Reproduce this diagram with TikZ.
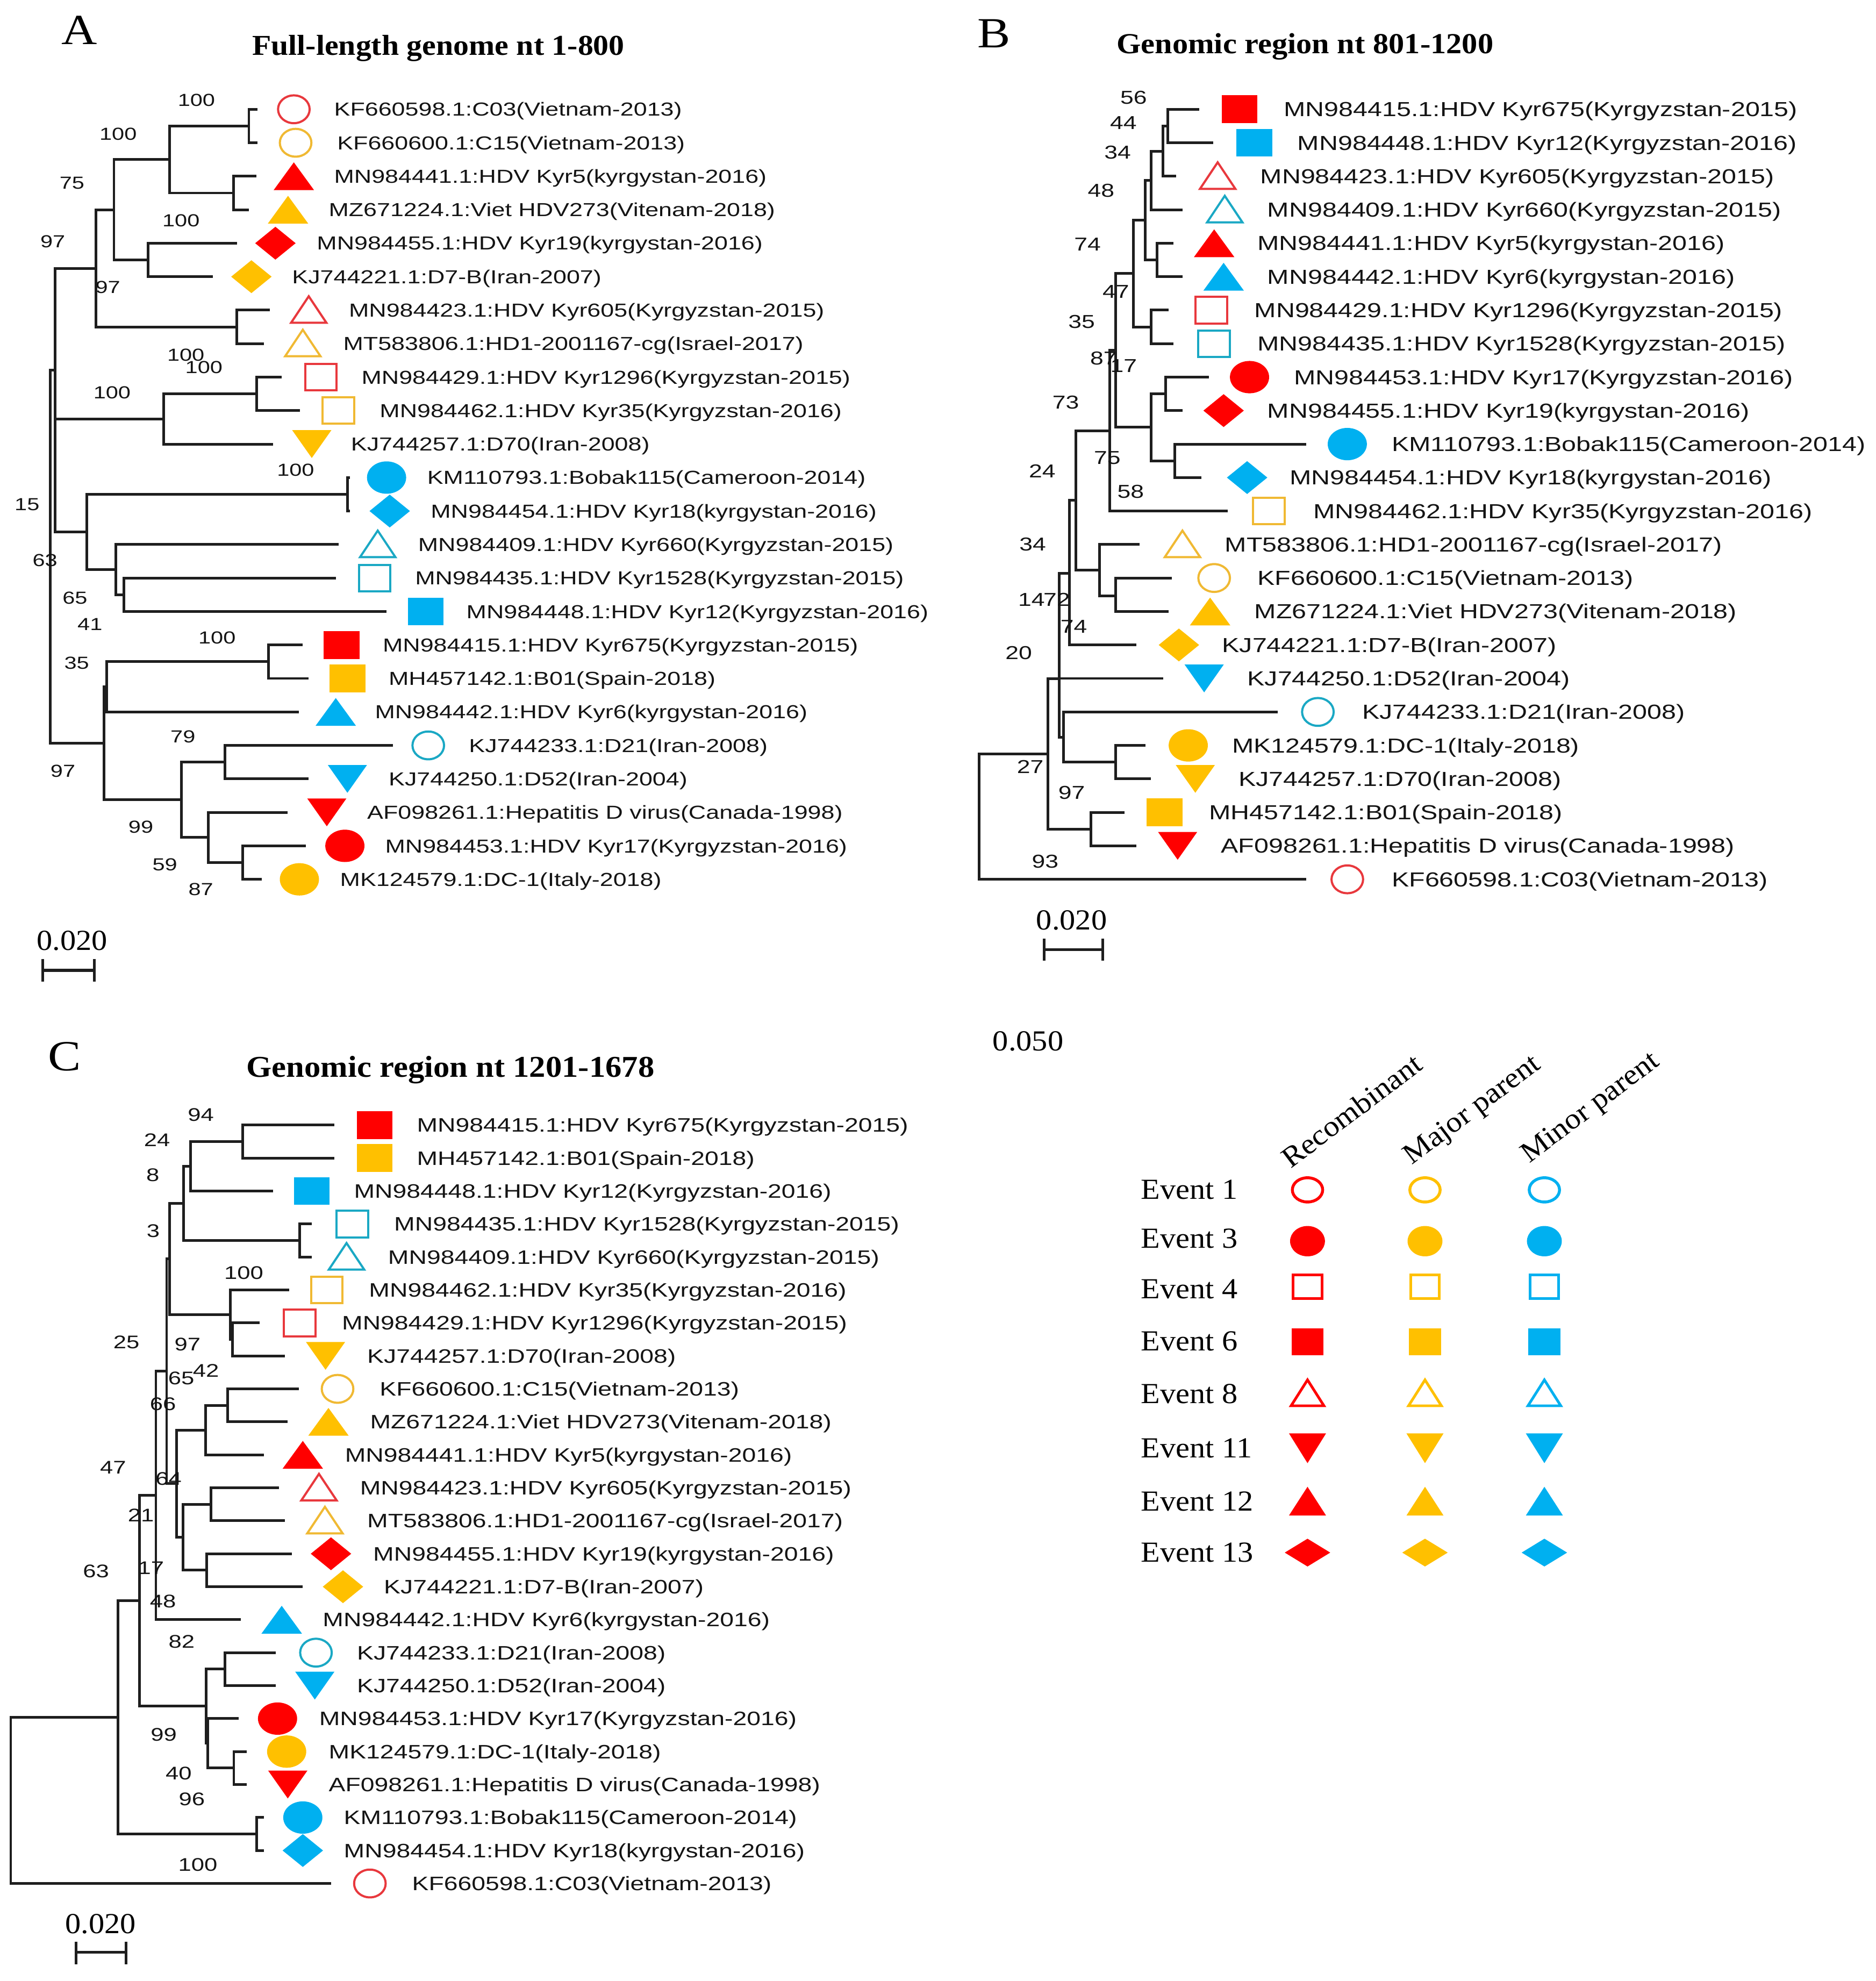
\documentclass[tikz,border=0pt]{standalone}
\usepackage{fontspec}
\setmainfont{Liberation Serif}
\newfontfamily\labf{Liberation Sans}[FakeStretch=1.28]
\newfontfamily\ttlf{Liberation Serif}[FakeStretch=1.08]
\newfontfamily\letf{Liberation Serif}[FakeStretch=1.15]
\definecolor{rd}{HTML}{FF0000}
\definecolor{yl}{HTML}{FFC000}
\definecolor{bl}{HTML}{00B0F0}
\definecolor{ord}{HTML}{E8383D}
\definecolor{oyl}{HTML}{F0B933}
\definecolor{obl}{HTML}{1AA8C4}
\definecolor{ink}{HTML}{1E1E1E}
\definecolor{txt}{HTML}{141414}
\tikzset{
  br/.style={draw=ink, line width=2.1pt},
  sbar/.style={draw=ink, line width=2.2pt},
  labA/.style={font=\labf\fontsize{14.9}{16}\selectfont, anchor=west, inner sep=0pt, text height=10.7pt, text depth=0pt, text=txt},
  labB/.style={font=\labf\fontsize{16.1}{17}\selectfont, anchor=west, inner sep=0pt, text height=11.5pt, text depth=0pt, text=txt},
  labC/.style={font=\labf\fontsize{15.4}{16}\selectfont, anchor=west, inner sep=0pt, text height=11pt, text depth=0pt, text=txt},
  bsA/.style={font=\labf\fontsize{13.8}{15}\selectfont, inner sep=0pt, text=txt},
  bsB/.style={font=\labf\fontsize{14.8}{16}\selectfont, inner sep=0pt, text=txt},
  bsC/.style={font=\labf\fontsize{14.5}{16}\selectfont, inner sep=0pt, text=txt},
  ttl/.style={font=\ttlf\bfseries\fontsize{#1}{#1}\selectfont, anchor=base, inner sep=0pt, text=black},
  plet/.style={font=\letf\fontsize{34}{36}\selectfont, anchor=base, inner sep=0pt, text=black},
  scl/.style={font=\ttlf\fontsize{23}{25}\selectfont, inner sep=0pt, text=black},
  evl/.style={font=\ttlf\fontsize{23}{25}\selectfont, anchor=west, inner sep=0pt, text height=15.2pt, text depth=0pt, text=black},
  hdr/.style={font=\ttlf\fontsize{23}{25}\selectfont, anchor=base west, rotate=37, inner sep=0pt, text=black},
  ocirc/.pic={\draw[line width=1.7pt] (0,0) ellipse [x radius=12.5pt, y radius=11pt];},
  fcirc/.pic={\fill (0,0) ellipse [x radius=15.5pt, y radius=12.8pt];},
  osq/.pic={\draw[line width=1.7pt] (-12.5,-10.5) rectangle (12.5,10.5);},
  fsq/.pic={\fill (-14.2,-11) rectangle (14.2,11);},
  ftri/.pic={\fill (-16,11) -- (16,11) -- (0,-11) -- cycle;},
  itri/.pic={\fill (-15.5,-11) -- (15.5,-11) -- (0,11) -- cycle;},
  otri/.pic={\draw[line width=1.7pt] (-14,10) -- (14,10) -- (0,-11) -- cycle;},
  fdia/.pic={\fill (-16,0) -- (0,-13) -- (16,0) -- (0,13) -- cycle;},
  locirc/.pic={\draw[line width=2.3pt] (0,0) ellipse [x radius=12pt, y radius=9.6pt];},
  lfcirc/.pic={\fill (0,0) ellipse [x radius=13.8pt, y radius=12pt];},
  losq/.pic={\draw[line width=2.1pt] (-11.4,-9.5) rectangle (11.4,9.5);},
  lfsq/.pic={\fill (-12.7,-10.7) rectangle (12.7,10.7);},
  lotri/.pic={\draw[line width=2.1pt] (-13,10) -- (13,10) -- (0,-10.5) -- cycle;},
  litri/.pic={\fill (-14.7,-11.8) -- (14.7,-11.8) -- (0,11.8) -- cycle;},
  lftri/.pic={\fill (-14.7,11.4) -- (14.7,11.4) -- (0,-11.4) -- cycle;},
  lfdia/.pic={\fill (-18,0) -- (0,-11) -- (18,0) -- (0,11) -- cycle;}
}
\newcommand\leaf[8]{\coordinate (#1) at (#3,#2); \pic[#6] at (#4,#2) {#5}; \node[lab] (#1t) at (#7,#2) {#8};}
\newcommand\tree[2]{\foreach \ch in {#2}{\draw[br] (#1) |- (\ch);}}
\begin{document}
\begin{tikzpicture}[x=1pt,y=-1pt]
\useasboundingbox (0,0) rectangle (1485,1568);
\fill[white] (0,0) rectangle (1485,1568);

% ================= PANEL A =================
\node[plet] (pA) at (63,35) {A};
\node[ttl=22.8] (tA) at (347,43.7) {Full-length genome nt 1-800};
\begin{scope}[lab/.style={labA}]
\leaf{A1}{86.5}{204}{232.6}{ocirc}{ord}{264.3}{KF660598.1:C03(Vietnam-2013)}
\leaf{A2}{113}{204}{234}{ocirc}{oyl}{266.7}{KF660600.1:C15(Vietnam-2013)}
\leaf{A3}{139.5}{203}{232.6}{ftri}{rd}{264.3}{MN984441.1:HDV Kyr5(kyrgystan-2016)}
\leaf{A4}{166}{197}{228}{ftri}{yl}{260}{MZ671224.1:Viet HDV273(Vitenam-2018)}
\leaf{A5}{192.5}{187.5}{218}{fdia}{rd}{250.6}{MN984455.1:HDV Kyr19(kyrgystan-2016)}
\leaf{A6}{219}{168.5}{199}{fdia}{yl}{231}{KJ744221.1:D7-B(Iran-2007)}
\leaf{A7}{245.5}{213.6}{244.4}{otri}{ord}{276}{MN984423.1:HDV Kyr605(Kyrgyzstan-2015)}
\leaf{A8}{272}{208.8}{239.7}{otri}{oyl}{271.5}{MT583806.1:HD1-2001167-cg(Israel-2017)}
\leaf{A9}{298.5}{223}{254}{osq}{ord}{286}{MN984429.1:HDV Kyr1296(Kyrgyzstan-2015)}
\leaf{A10}{325}{237.3}{268}{osq}{oyl}{300.4}{MN984462.1:HDV Kyr35(Kyrgyzstan-2016)}
\leaf{A11}{351.5}{216}{246.8}{itri}{yl}{277.6}{KJ744257.1:D70(Iran-2008)}
\leaf{A12}{378}{277}{306}{fcirc}{bl}{338}{KM110793.1:Bobak115(Cameroon-2014)}
\leaf{A13}{404.5}{277}{308.5}{fdia}{bl}{340.8}{MN984454.1:HDV Kyr18(kyrgystan-2016)}
\leaf{A14}{431}{268}{299}{otri}{obl}{330.8}{MN984409.1:HDV Kyr660(Kyrgyzstan-2015)}
\leaf{A15}{457.5}{266}{296.6}{osq}{obl}{328.4}{MN984435.1:HDV Kyr1528(Kyrgyzstan-2015)}
\leaf{A16}{484}{306}{337}{fsq}{bl}{369}{MN984448.1:HDV Kyr12(Kyrgyzstan-2016)}
\leaf{A17}{510.5}{239.7}{270.5}{fsq}{rd}{302.8}{MN984415.1:HDV Kyr675(Kyrgyzstan-2015)}
\leaf{A18}{537}{244.4}{275}{fsq}{yl}{307.5}{MH457142.1:B01(Spain-2018)}
\leaf{A19}{563.5}{236.4}{265.8}{ftri}{bl}{296.6}{MN984442.1:HDV Kyr6(kyrgystan-2016)}
\leaf{A20}{590}{310.9}{339}{ocirc}{obl}{371}{KJ744233.1:D21(Iran-2008)}
\leaf{A21}{616.5}{244.4}{275}{itri}{bl}{307.5}{KJ744250.1:D52(Iran-2004)}
\leaf{A22}{643}{227.8}{258.7}{itri}{rd}{290.5}{AF098261.1:Hepatitis D virus(Canada-1998)}
\leaf{A23}{669.5}{242}{273}{fcirc}{rd}{304.7}{MN984453.1:HDV Kyr17(Kyrgyzstan-2016)}
\leaf{A24}{696}{207.4}{237}{fcirc}{yl}{269}{MK124579.1:DC-1(Italy-2018)}
\end{scope}
\coordinate (a12) at (197,99.75);
\coordinate (a34) at (185,152.75);
\coordinate (a1234) at (134.3,126.25);
\coordinate (a56) at (117.2,205.75);
\coordinate (a16) at (90.2,166);
\coordinate (a78) at (187.5,258.75);
\coordinate (a18) at (76,212.4);
\coordinate (a910) at (203,311.75);
\coordinate (a911) at (129.6,331.6);
\coordinate (a1213) at (275,391.25);
\coordinate (a1516) at (98.2,470.75);
\coordinate (a1416) at (91.6,450.9);
\coordinate (a1216) at (68.8,421);
\coordinate (a1718) at (212.6,523.75);
\coordinate (a1719) at (84.5,543.6);
\coordinate (a2021) at (178,603.25);
\coordinate (a2324) at (192.2,682.75);
\coordinate (a2224) at (164.7,662.9);
\coordinate (a2024) at (143.8,633);
\coordinate (a1724) at (82.2,588.3);
\coordinate (ar1) at (43.5,293);
\coordinate (ar0) at (39.7,440.6);
\tree{a12}{A1,A2}
\tree{a34}{A3,A4}
\tree{a1234}{a12,a34}
\tree{a56}{A5,A6}
\tree{a16}{a1234,a56}
\tree{a78}{A7,A8}
\tree{a18}{a16,a78}
\tree{a910}{A9,A10}
\tree{a911}{a910,A11}
\tree{a1213}{A12,A13}
\tree{a1516}{A15,A16}
\tree{a1416}{A14,a1516}
\tree{a1216}{a1213,a1416}
\tree{a1718}{A17,A18}
\tree{a1719}{a1718,A19}
\tree{a2021}{A20,A21}
\tree{a2324}{A23,A24}
\tree{a2224}{A22,a2324}
\tree{a2024}{a2021,a2224}
\tree{a1724}{a1719,a2024}
\tree{ar1}{a18,a911,a1216}
\tree{ar0}{ar1,a1724}
\node[bsA] (nA1) at (155.5,79.4) {100};
\node[bsA] (nA2) at (93.5,106) {100};
\node[bsA] (nA3) at (57,144.8) {75};
\node[bsA] (nA4) at (143.3,174.8) {100};
\node[bsA] (nA5) at (41.8,191) {97};
\node[bsA] (nA6) at (85.4,227.2) {97};
\node[bsA] (nA7) at (147.1,281) {100};
\node[bsA] (nA8) at (161.4,290.9) {100};
\node[bsA] (nA9) at (88.7,310.9) {100};
\node[bsA] (nA10) at (234,372) {100};
\node[bsA] (nA11) at (21.4,399.2) {15};
\node[bsA] (nA12) at (35.6,443.5) {63};
\node[bsA] (nA13) at (59.3,473.5) {65};
\node[bsA] (nA14) at (71.2,494.3) {41};
\node[bsA] (nA15) at (171.8,504.8) {100};
\node[bsA] (nA16) at (60.7,525) {35};
\node[bsA] (nA17) at (144.8,582.9) {79};
\node[bsA] (nA18) at (49.8,610.3) {97};
\node[bsA] (nA19) at (111.5,654.5) {99};
\node[bsA] (nA20) at (130.5,684.5) {59};
\node[bsA] (nA21) at (159,704) {87};
\node[scl] (sA) at (57,744.4) {0.020};
\draw[sbar] (34,759) -- (34,777) (34,768) -- (74.5,768) (74.5,759) -- (74.5,777);

% ================= PANEL B =================
\node[plet] (pB) at (787,37.5) {B};
\node[ttl=23] (tB) at (1033,42.4) {Genomic region nt 801-1200};
\begin{scope}[lab/.style={labB}]
\leaf{B1}{86.5}{949.5}{981.2}{fsq}{rd}{1016.1}{MN984415.1:HDV Kyr675(Kyrgyzstan-2015)}
\leaf{B2}{113}{960.2}{992.8}{fsq}{bl}{1026.9}{MN984448.1:HDV Kyr12(Kyrgyzstan-2016)}
\leaf{B3}{139.5}{930.8}{963.9}{otri}{ord}{997.5}{MN984423.1:HDV Kyr605(Kyrgyzstan-2015)}
\leaf{B4}{166}{936}{969.5}{otri}{obl}{1003.1}{MN984409.1:HDV Kyr660(Kyrgyzstan-2015)}
\leaf{B5}{192.5}{929}{961.1}{ftri}{rd}{995.2}{MN984441.1:HDV Kyr5(kyrgystan-2016)}
\leaf{B6}{219}{936}{968.6}{ftri}{bl}{1003.1}{MN984442.1:HDV Kyr6(kyrgystan-2016)}
\leaf{B7}{245.5}{925.2}{958.8}{osq}{ord}{992.8}{MN984429.1:HDV Kyr1296(Kyrgyzstan-2015)}
\leaf{B8}{272}{929}{961.1}{osq}{obl}{995.2}{MN984435.1:HDV Kyr1528(Kyrgyzstan-2015)}
\leaf{B9}{298.5}{957}{989.1}{fcirc}{rd}{1024.1}{MN984453.1:HDV Kyr17(Kyrgyzstan-2016)}
\leaf{B10}{325}{936}{968.6}{fdia}{rd}{1003.1}{MN984455.1:HDV Kyr19(kyrgystan-2016)}
\leaf{B11}{351.5}{1033.9}{1066.5}{fcirc}{bl}{1101.5}{KM110793.1:Bobak115(Cameroon-2014)}
\leaf{B12}{378}{950.9}{987.2}{fdia}{bl}{1020.8}{MN984454.1:HDV Kyr18(kyrgystan-2016)}
\leaf{B13}{404.5}{971.9}{1004.5}{osq}{oyl}{1039.4}{MN984462.1:HDV Kyr35(Kyrgyzstan-2016)}
\leaf{B14}{431}{901.9}{936}{otri}{oyl}{969.5}{MT583806.1:HD1-2001167-cg(Israel-2017)}
\leaf{B15}{457.5}{927.6}{961.1}{ocirc}{oyl}{995.2}{KF660600.1:C15(Vietnam-2013)}
\leaf{B16}{484}{925.2}{957.9}{ftri}{yl}{992.8}{MZ671224.1:Viet HDV273(Vitenam-2018)}
\leaf{B17}{510.5}{899.6}{933.2}{fdia}{yl}{967.2}{KJ744221.1:D7-B(Iran-2007)}
\leaf{B18}{537}{920.6}{953.2}{itri}{bl}{987.2}{KJ744250.1:D52(Iran-2004)}
\leaf{B19}{563.5}{1011.5}{1043.2}{ocirc}{obl}{1078.1}{KJ744233.1:D21(Iran-2008)}
\leaf{B20}{590}{906.6}{940.6}{fcirc}{yl}{975.1}{MK124579.1:DC-1(Italy-2018)}
\leaf{B21}{616.5}{911.2}{946.2}{itri}{yl}{980.2}{KJ744257.1:D70(Iran-2008)}
\leaf{B22}{643}{890.3}{922}{fsq}{yl}{956.9}{MH457142.1:B01(Spain-2018)}
\leaf{B23}{669.5}{899.6}{932.2}{itri}{rd}{966.3}{AF098261.1:Hepatitis D virus(Canada-1998)}
\leaf{B24}{696}{1033.9}{1066.5}{ocirc}{ord}{1101.5}{KF660598.1:C03(Vietnam-2013)}
\end{scope}
\coordinate (b12) at (924.3,99.75);
\coordinate (b13) at (920.6,119.6);
\coordinate (b14) at (911.2,142.8);
\coordinate (b56) at (915.9,205.75);
\coordinate (b16) at (906.6,174.3);
\coordinate (b78) at (911.2,258.75);
\coordinate (b18) at (897.3,216.5);
\coordinate (b910) at (922.9,311.75);
\coordinate (b1112) at (929.9,364.75);
\coordinate (b912) at (911.2,338.25);
\coordinate (b112) at (883.3,277.4);
\coordinate (b113) at (878.5,340.9);
\coordinate (b1516) at (883.3,471.5);
\coordinate (b1416) at (870.5,451.25);
\coordinate (bR) at (851.8,396);
\coordinate (bU) at (846.5,453.75);
\coordinate (b2021) at (883.3,603.25);
\coordinate (bX) at (841.8,583.4);
\coordinate (bY) at (838.5,537.2);
\coordinate (b2223) at (863.7,656.25);
\coordinate (bS) at (829.5,596.7);
\coordinate (broot) at (775.1,646.4);
\tree{b12}{B1,B2}
\tree{b13}{b12,B3}
\tree{b14}{b13,B4}
\tree{b56}{B5,B6}
\tree{b16}{b14,b56}
\tree{b78}{B7,B8}
\tree{b18}{b16,b78}
\tree{b910}{B9,B10}
\tree{b1112}{B11,B12}
\tree{b912}{b910,b1112}
\tree{b112}{b18,b912}
\tree{b113}{b112,B13}
\tree{b1516}{B15,B16}
\tree{b1416}{B14,b1516}
\tree{bR}{b113,b1416}
\tree{bU}{bR,B17}
\tree{b2021}{B20,B21}
\tree{bX}{B19,b2021}
\tree{bY}{bU,B18,bX}
\tree{b2223}{B22,B23}
\tree{bS}{bY,b2223}
\tree{broot}{bS,B24}
\node[bsB] (nB1) at (897.3,77.4) {56};
\node[bsB] (nB2) at (889.3,97.4) {44};
\node[bsB] (nB3) at (884.7,120.6) {34};
\node[bsB] (nB4) at (871.6,151) {48};
\node[bsB] (nB5) at (860.9,193.5) {74};
\node[bsB] (nB6) at (883.3,231) {47};
\node[bsB] (nB7) at (856.2,254.7) {35};
\node[bsB] (nB8) at (873.5,283.4) {87};
\node[bsB] (nB9) at (889.5,289.6) {17};
\node[bsB] (nB10) at (843.6,318.4) {73};
\node[bsB] (nB11) at (876.5,362.5) {75};
\node[bsB] (nB12) at (825,372.8) {24};
\node[bsB] (nB13) at (895,389.3) {58};
\node[bsB] (nB14) at (817.5,431) {34};
\node[bsB] (nB15) at (816.5,474.5) {14};
\node[bsB] (nB16) at (836.5,474.5) {72};
\node[bsB] (nB17) at (850,496) {74};
\node[bsB] (nB18) at (806.4,516.8) {20};
\node[bsB] (nB19) at (815.5,607) {27};
\node[bsB] (nB20) at (848.3,627.5) {97};
\node[bsB] (nB21) at (827.3,681.7) {93};
\node[scl] (sB) at (848.3,728.3) {0.020};
\draw[sbar] (826.4,742.9) -- (826.4,760.2) (826.4,751.7) -- (873,751.7) (873,742.9) -- (873,760.2);
\node[scl] (s050) at (813.8,824) {0.050};

% ================= PANEL C =================
\node[plet] (pC) at (51,847.5) {C};
\node[ttl=23.9] (tC) at (356.6,852.7) {Genomic region nt 1201-1678};
\begin{scope}[lab/.style={labC}]
\leaf{C1}{890.5}{264.8}{296.6}{fsq}{rd}{329.8}{MN984415.1:HDV Kyr675(Kyrgyzstan-2015)}
\leaf{C2}{916.6}{264.8}{296.6}{fsq}{yl}{329.8}{MH457142.1:B01(Spain-2018)}
\leaf{C3}{942.7}{216}{246.8}{fsq}{bl}{280}{MN984448.1:HDV Kyr12(Kyrgyzstan-2016)}
\leaf{C4}{968.8}{246.8}{279}{osq}{obl}{311.8}{MN984435.1:HDV Kyr1528(Kyrgyzstan-2015)}
\leaf{C5}{994.9}{246.8}{274.3}{otri}{obl}{307}{MN984409.1:HDV Kyr660(Kyrgyzstan-2015)}
\leaf{C6}{1021}{228.8}{258.7}{osq}{oyl}{291.9}{MN984462.1:HDV Kyr35(Kyrgyzstan-2016)}
\leaf{C7}{1047.1}{205.5}{237.3}{osq}{ord}{270.5}{MN984429.1:HDV Kyr1296(Kyrgyzstan-2015)}
\leaf{C8}{1073.2}{225.4}{257.7}{itri}{yl}{290.5}{KJ744257.1:D70(Iran-2008)}
\leaf{C9}{1099.3}{236.4}{267.2}{ocirc}{oyl}{300.4}{KF660600.1:C15(Vietnam-2013)}
\leaf{C10}{1125.4}{227.8}{260}{ftri}{yl}{292.8}{MZ671224.1:Viet HDV273(Vitenam-2018)}
\leaf{C11}{1151.5}{208.8}{239.7}{ftri}{rd}{272.9}{MN984441.1:HDV Kyr5(kyrgystan-2016)}
\leaf{C12}{1177.6}{220.7}{252.5}{otri}{ord}{284.8}{MN984423.1:HDV Kyr605(Kyrgyzstan-2015)}
\leaf{C13}{1203.7}{225.4}{257.2}{otri}{oyl}{290.5}{MT583806.1:HD1-2001167-cg(Israel-2017)}
\leaf{C14}{1229.8}{231.1}{262}{fdia}{rd}{295.2}{MN984455.1:HDV Kyr19(kyrgystan-2016)}
\leaf{C15}{1255.9}{239.7}{271.5}{fdia}{yl}{303.7}{KJ744221.1:D7-B(Iran-2007)}
\leaf{C16}{1282}{190.8}{223}{ftri}{bl}{255.3}{MN984442.1:HDV Kyr6(kyrgystan-2016)}
\leaf{C17}{1308.1}{218.3}{250.1}{ocirc}{obl}{282.4}{KJ744233.1:D21(Iran-2008)}
\leaf{C18}{1334.2}{218.3}{249.2}{itri}{bl}{282.4}{KJ744250.1:D52(Iran-2004)}
\leaf{C19}{1360.3}{188.9}{219.7}{fcirc}{rd}{252.5}{MN984453.1:HDV Kyr17(Kyrgyzstan-2016)}
\leaf{C20}{1386.4}{195.5}{226.9}{fcirc}{yl}{260.1}{MK124579.1:DC-1(Italy-2018)}
\leaf{C21}{1412.5}{195.5}{227.8}{itri}{rd}{260.1}{AF098261.1:Hepatitis D virus(Canada-1998)}
\leaf{C22}{1438.6}{208.8}{239.7}{fcirc}{bl}{272}{KM110793.1:Bobak115(Cameroon-2014)}
\leaf{C23}{1464.7}{208.8}{239.7}{fdia}{bl}{272}{MN984454.1:HDV Kyr18(kyrgystan-2016)}
\leaf{C24}{1490.8}{262}{292.8}{ocirc}{ord}{326}{KF660598.1:C03(Vietnam-2013)}
\end{scope}
\coordinate (c12) at (192.2,903.55);
\coordinate (c13) at (150.9,923.1);
\coordinate (c45) at (237.3,981.85);
\coordinate (c15) at (145.5,952.5);
\coordinate (c78) at (184,1060.15);
\coordinate (c68) at (182.5,1040.6);
\coordinate (c18) at (134.1,996.5);
\coordinate (c910) at (180.3,1112.35);
\coordinate (c911) at (162.6,1131.9);
\coordinate (c1213) at (167.1,1190.65);
\coordinate (c1415) at (163.7,1242.85);
\coordinate (c1215) at (144.7,1216.75);
\coordinate (cX) at (139.7,1174.3);
\coordinate (cK) at (131.9,1085.4);
\coordinate (cL) at (123.4,1183.7);
\coordinate (c1718) at (178,1321.15);
\coordinate (c2021) at (185.1,1399.45);
\coordinate (c1921) at (164.5,1379.9);
\coordinate (c1721) at (163,1350.5);
\coordinate (cQ) at (110.6,1267.1);
\coordinate (c2223) at (203.1,1451.65);
\coordinate (cR2) at (93.5,1359.4);
\coordinate (cRoot) at (8.5,1425.1);
\tree{c12}{C1,C2}
\tree{c13}{c12,C3}
\tree{c45}{C4,C5}
\tree{c15}{c13,c45}
\tree{c78}{C7,C8}
\tree{c68}{C6,c78}
\tree{c18}{c15,c68}
\tree{c910}{C9,C10}
\tree{c911}{c910,C11}
\tree{c1213}{C12,C13}
\tree{c1415}{C14,C15}
\tree{c1215}{c1213,c1415}
\tree{cX}{c911,c1215}
\tree{cK}{c18,cX}
\tree{cL}{cK,C16}
\tree{c1718}{C17,C18}
\tree{c2021}{C20,C21}
\tree{c1921}{C19,c2021}
\tree{c1721}{c1718,c1921}
\tree{cQ}{cL,c1721}
\tree{c2223}{C22,C23}
\tree{cR2}{cQ,c2223}
\tree{cRoot}{cR2,C24}
\node[bsC] (nC1) at (159,882.5) {94};
\node[bsC] (nC2) at (124.3,902.3) {24};
\node[bsC] (nC3) at (121,930) {8};
\node[bsC] (nC4) at (121.3,974.4) {3};
\node[bsC] (nC5) at (193,1007.5) {100};
\node[bsC] (nC6) at (100,1062.5) {25};
\node[bsC] (nC7) at (148.5,1064) {97};
\node[bsC] (nC8) at (143.5,1091) {65};
\node[bsC] (nC9) at (163,1085) {42};
\node[bsC] (nC10) at (129,1111.5) {66};
\node[bsC] (nC11) at (89.5,1161.5) {47};
\node[bsC] (nC12) at (133.4,1170.5) {64};
\node[bsC] (nC13) at (111.5,1199.3) {21};
\node[bsC] (nC14) at (119.5,1241) {17};
\node[bsC] (nC15) at (76,1243.8) {63};
\node[bsC] (nC16) at (129,1267.5) {48};
\node[bsC] (nC17) at (143.8,1299.6) {82};
\node[bsC] (nC18) at (129.6,1373.2) {99};
\node[bsC] (nC19) at (141.4,1403.6) {40};
\node[bsC] (nC20) at (151.9,1423.9) {96};
\node[bsC] (nC21) at (156.6,1475.9) {100};
\node[scl] (sC) at (79.7,1522.8) {0.020};
\draw[sbar] (60.3,1536.8) -- (60.3,1554.6) (60.3,1545.2) -- (99.7,1545.2) (99.7,1536.8) -- (99.7,1554.6);

% ================= LEGEND =================
\node[hdr] (hrec) at (1021.5,925.4) {Recombinant};
\node[hdr] (hmaj) at (1117.5,922.6) {Major parent};
\node[hdr] (hmin) at (1210.5,921) {Minor parent};
\node[evl] (ev1) at (903,941.6) {Event 1};
\node[evl] (ev3) at (903,980.4) {Event 3};
\node[evl] (ev4) at (903,1020) {Event 4};
\node[evl] (ev6) at (903,1061.6) {Event 6};
\node[evl] (ev8) at (903,1103) {Event 8};
\node[evl] (ev11) at (903,1146.3) {Event 11};
\node[evl] (ev12) at (903,1188.2) {Event 12};
\node[evl] (ev13) at (903,1228.9) {Event 13};
\foreach \yy/\pp in {941.8/locirc, 982.4/lfcirc, 1018.5/losq, 1062/lfsq, 1102.7/lotri, 1146.3/litri, 1188.2/lftri, 1228.9/lfdia}{
  \pic[rd] at (1035,\yy) {\pp};
  \pic[yl] at (1128,\yy) {\pp};
  \pic[bl] at (1222.5,\yy) {\pp};
}
\end{tikzpicture}
\end{document}
